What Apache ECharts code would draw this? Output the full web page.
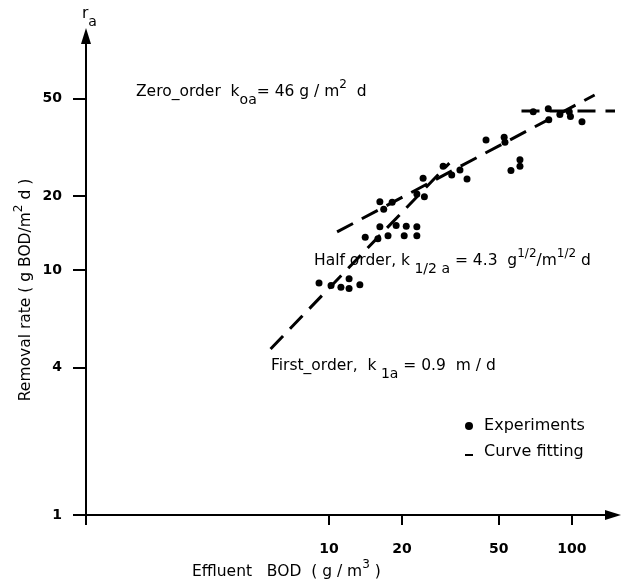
<!DOCTYPE html>
<html>
<head>
<meta charset="utf-8">
<script src="https://cdn.jsdelivr.net/npm/echarts@6/dist/echarts.min.js"></script>
<style>
  html, body { margin: 0; padding: 0; background: #fff; }
  #main { width: 622px; height: 584px; }
</style>
</head>
<body>
<div id="main"></div>
<script>
// experiments: effluent BOD (g/m3) and removal rate (g BOD/m2 d)
const expBod = [9.1, 10.2, 11.2, 12.1, 12.1, 13.4, 14.1, 15.9, 17.5, 20.4, 23.0, 16.2, 18.9, 20.8, 23.0,
  16.2, 18.2, 16.8, 24.4, 23.0, 24.7, 29.5, 32.0, 34.6, 37.0, 44.3, 52.6, 53.0, 56.1, 61.1, 61.1,
  69.3, 79.9, 80.3, 89.2, 97.5, 98.6, 110];
const expRate = [8.85, 8.65, 8.5, 9.2, 8.4, 8.7, 13.6, 13.4, 13.8, 13.8, 13.8, 15.0, 15.2, 15.1, 15.0,
  19.0, 18.9, 17.7, 23.7, 20.4, 19.9, 26.5, 24.4, 25.6, 23.5, 33.9, 34.8, 33.2, 25.5, 28.2, 26.5,
  44.2, 45.5, 41.0, 43.1, 44.2, 42.3, 40.3];

// curve fitting, end points of each line
const firstBod = [5.75, 31.3];
const firstRate = [4.76, 27.3];
const halfBod = [10.8, 124];
const halfRate = [14.3, 51.8];
const zeroBod = [62, 155];
const zeroRate = [44.6, 44.6];

const xTicks = [1, 10, 20, 50, 100];
const yTicks = [1, 4, 10, 20, 50];

const font = "DejaVu Sans";
const lg = Math.log10;

function pairs(xs, ys) {
  return xs.map((x, i) => [lg(x), lg(ys[i])]);
}

function tickLabel(v) {
  return String(Math.round(Math.pow(10, v)));
}

const rich = {
  m: { fontFamily: font, fontSize: 15.5, lineHeight: 30, verticalAlign: "middle", fill: "#000" },
  sub: { fontFamily: font, fontSize: 14, lineHeight: 12, verticalAlign: "bottom", fill: "#000" },
  sup: { fontFamily: font, fontSize: 12, lineHeight: 11, verticalAlign: "top", padding: [2, 0, 0, 0], fill: "#000" }
};

function note(x, y, text, rotation) {
  return {
    type: "text",
    x: x,
    y: y,
    rotation: rotation || 0,
    style: { text: text, rich: rich, align: rotation ? "center" : "left", verticalAlign: "middle" }
  };
}

const dash = { color: "#000", width: 3, type: [18, 10] };

const chart = echarts.init(document.getElementById("main"));
chart.setOption({
  animation: false,
  grid: { left: 86, right: 9, top: 36, bottom: 69, outerBoundsMode: "none" },
  xAxis: {
    type: "value",
    min: 0,
    max: 2.169,
    splitLine: { show: false },
    axisLine: {
      lineStyle: { color: "#000", width: 2 },
      symbol: ["none", "triangle"],
      symbolSize: [10, 16]
    },
    axisTick: { customValues: xTicks.map(lg), length: 10, lineStyle: { color: "#000", width: 2 } },
    axisLabel: {
      customValues: xTicks.slice(1).map(lg),
      formatter: tickLabel,
      margin: 27,
      fontFamily: font,
      fontSize: 14,
      fontWeight: "bold",
      color: "#000"
    }
  },
  yAxis: {
    type: "value",
    min: 0,
    max: 1.955,
    splitLine: { show: false },
    axisLine: {
      lineStyle: { color: "#000", width: 2 },
      symbol: ["none", "triangle"],
      symbolSize: [10, 16]
    },
    axisTick: { customValues: yTicks.map(lg), length: 13, lineStyle: { color: "#000", width: 2 } },
    axisLabel: {
      customValues: yTicks.map(lg),
      formatter: tickLabel,
      margin: 24,
      fontFamily: font,
      fontSize: 14,
      fontWeight: "bold",
      color: "#000"
    }
  },
  legend: {
    orient: "vertical",
    left: 460,
    top: 413,
    itemWidth: 10,
    itemHeight: 8,
    itemGap: 10,
    selectedMode: false,
    formatter: (n) => " " + n,
    textStyle: { fontFamily: font, fontSize: 16, color: "#000" },
    data: [
      { name: "Experiments", icon: "circle" },
      { name: "Curve fitting", icon: "path://M0,0M0,6L8,6L8,8L0,8Z" }
    ]
  },
  series: [
    { name: "Curve fitting", type: "line", symbol: "none", data: pairs(firstBod, firstRate), lineStyle: dash, itemStyle: { color: "#000" } },
    { name: "Curve fitting", type: "line", symbol: "none", data: pairs(halfBod, halfRate), lineStyle: dash, itemStyle: { color: "#000" } },
    { name: "Curve fitting", type: "line", symbol: "none", clip: false, data: pairs(zeroBod, zeroRate), lineStyle: dash, itemStyle: { color: "#000" } },
    {
      name: "Experiments",
      type: "scatter",
      symbolSize: 7,
      itemStyle: { color: "#000", opacity: 1 },
      data: pairs(expBod, expRate)
    }
  ],
  graphic: [
    note(136, 92, "{m|Zero_order  k}{sub|oa}{m|= 46 g / m}{sup|2}{m|  d}"),
    note(314, 261, "{m|Half order, k}{sub| 1/2 a}{m| = 4.3  g}{sup|1/2}{m|/m}{sup|1/2}{m| d}"),
    note(271, 366, "{m|First_order,  k}{sub| 1a}{m| = 0.9  m / d}"),
    note(82, 14, "{m|r}{sub|a}"),
    note(192, 572, "{m|Effluent   BOD  ( g / m}{sup|3}{m| )}"),
    note(26, 290, "{m|Removal rate ( g BOD/m}{sup|2}{m| d )}", Math.PI / 2)
  ]
});
</script>
</body>
</html>
